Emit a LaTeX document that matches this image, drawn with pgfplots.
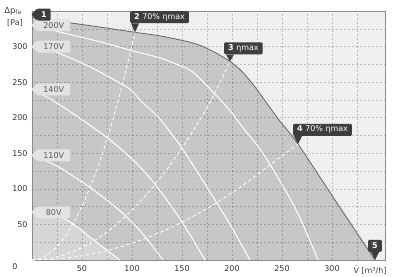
\documentclass[border=0pt]{standalone}
\usepackage{fontspec}
\setmainfont{DejaVu Sans}
\usepackage{pgfplots}
\pgfplotsset{compat=1.18}
\definecolor{bglight}{HTML}{EFEFEF}
\definecolor{envfill}{HTML}{C7C7C7}
\definecolor{low80}{HTML}{D6D6D6}
\definecolor{envline}{HTML}{666666}
\definecolor{axisgray}{HTML}{8C8C8C}
\definecolor{tagdark}{HTML}{3E3E3E}
\definecolor{taglight}{HTML}{E3E3E3}
\tikzset{
 dtag/.style={fill=tagdark, text=white, rounded corners=1.2bp, inner xsep=4bp, inner ysep=1bp,
   font=\fontsize{8}{9}\selectfont, minimum height=12bp},
 vtag/.style={fill=taglight, text=black!65, rounded corners=1bp, inner xsep=2bp, inner ysep=1bp,
   font=\fontsize{8}{9}\selectfont, minimum height=12bp, minimum width=33bp},
}
% down-pointing dark tag: x, y, offset of tip from box left, yshift, text
\newcommand\downtag[5]{%
 \node[dtag, anchor=south west] (T) at ([xshift=-#3, yshift=#4]axis cs:#1,#2) {#5};
 \fill[tagdark] ([xshift=#3-4bp]T.south west) -- (axis cs:#1,#2) -- ([xshift=#3+4bp]T.south west) -- cycle;
}
% left-pointing tag: x, y, style, text
\newcommand\lefttag[4]{%
 \node[#3, anchor=west] (T) at ([xshift=5bp]axis cs:#1,#2) {#4};
 \fill[#3color] ([yshift=-0.3bp]T.north west) -- ([xshift=-0.5bp]axis cs:#1,#2) -- ([yshift=0.3bp]T.south west) -- cycle;
}
\colorlet{dtagcolor}{tagdark}
\colorlet{vtagcolor}{taglight}
\begin{document}
\begin{tikzpicture}
\begin{axis}[
 set layers,
 scale only axis, width=353bp, height=249bp,
 xmin=0, xmax=353, ymin=0, ymax=350,
 clip=false,
 xtick={50,100,...,300}, ytick={50,100,...,300},
 minor xtick={25,75,...,325}, minor ytick={25,75,...,325},
 grid=both,
 grid style={black, opacity=0.2, dash pattern=on 2bp off 2bp, line width=0.5bp},
 major tick length=0pt, minor tick length=0pt,
 axis line style={draw=axisgray, line width=0.8bp},
 axis background/.style={fill=bglight},
 tick label style={font=\fontsize{8}{9}\selectfont, text=black!80},
 /pgf/number format/assume math mode=true,
 xticklabel style={yshift=-2bp},
 yticklabel style={xshift=-1bp},
]
% envelope area
\addplot[on layer=axis background, fill=envfill, draw=none, smooth] coordinates {
 (0,341)(35,334)(70,327)(103,320)(128,315)(161,305)(180,294)(198,279)(210,265)
 (222,245)(235,220)(248,195)(266,163)(305,80)(343,0)} \closedcycle;
% region below lowest voltage
\addplot[on layer=axis background, fill=low80, draw=none, smooth] coordinates {
 (0,67)(15,65)(31,59)(45,47)(58,32)(72,17)(88,0)} \closedcycle;
% envelope line
\addplot[draw=envline, line width=0.8bp, smooth] coordinates {
 (0,341)(35,334)(70,327)(103,320)(128,315)(161,305)(180,294)(198,279)(210,265)
 (222,245)(235,220)(248,195)(266,163)(305,80)(343,0)};
% voltage curves
\addplot[white, line width=1bp, smooth] coordinates {
 (0,67)(15,65)(31,59)(45,47)(58,32)(72,17)(88,0)};
\addplot[white, line width=1bp, smooth] coordinates {
 (0,147)(16,138)(30,128)(41,118)(58,102)(75,84)(92,64)(110,38)(131,0)};
\addplot[white, line width=1bp, smooth] coordinates {
 (0,240)(21,224)(45,202)(75,172)(100,142)(121,110)(148,58)(173,0)};
\addplot[white, line width=1bp, smooth] coordinates {
 (0,300)(18,295)(40,283)(60,270)(80,255)(98,240)(110,222)(128,198)(150,157)(176,100)(198,50)(218,0)};
\addplot[white, line width=1bp, smooth] coordinates {
 (0,330)(35,318)(70,306)(98,295)(128,284)(145,275)(161,264)(181,236)(198,210)(212,184)(228,156)(245,118)(265,68)(286,0)};
% efficiency lines
\addplot[white, line width=0.8bp, dash pattern=on 3.5bp off 2.5bp, smooth] coordinates {
 (0,0)(10,3)(20,12.1)(30,27.2)(40,48.3)(50,75.5)(60,108.7)(70,148)(80,193.3)(90,244.6)(100,302)(103,320)};
\addplot[white, line width=0.8bp, dash pattern=on 3.5bp off 2.5bp, smooth] coordinates {
 (0,0)(20,2.8)(40,11.2)(60,25.2)(80,44.8)(100,70)(120,100.8)(140,137.2)(160,179.2)(180,226.8)(198,279)};
\addplot[white, line width=0.8bp, dash pattern=on 3.5bp off 2.5bp, smooth] coordinates {
 (0,0)(30,2.1)(60,8.5)(90,19.1)(120,34)(150,53.1)(180,76.5)(210,104.1)(240,135.9)(266,163)};
% voltage tags
\lefttag{0}{330}{vtag}{200V}
\lefttag{0}{300}{vtag}{170V}
\lefttag{0}{240}{vtag}{140V}
\lefttag{0}{147}{vtag}{110V}
\lefttag{0}{67}{vtag}{80V}
% point tags
\lefttag{0}{345}{dtag}{\textbf{1}}
\downtag{103}{320}{5bp}{9bp}{\textbf{2} 70\% ηmax}
\downtag{198}{279}{6bp}{7bp}{\textbf{3} ηmax}
\downtag{266}{163}{5bp}{8bp}{\textbf{4} 70\% ηmax}
\node[dtag, anchor=south] (T5) at ([yshift=8bp]axis cs:343,0) {\textbf{5}};
\fill[tagdark] ([xshift=-4bp]T5.south) -- (axis cs:343,0) -- ([xshift=4bp]T5.south) -- cycle;
% origin label
\node[font=\fontsize{8}{9}\selectfont, text=black!80] at ([xshift=-17bp, yshift=-7bp]axis cs:0,0) {0};
\end{axis}
\node[font=\fontsize{8.5}{9}\selectfont, text=black!75] at (-19bp,249bp) {Δp\textsubscript{fa}};
\node[font=\fontsize{8}{9}\selectfont, text=black!75] at (-17bp,237bp) {[Pa]};
\node[font=\fontsize{8}{9}\selectfont, text=black!75] at (338bp,-10bp) {V̇ [m³/h]};
\pgfresetboundingbox
\path[use as bounding box] (-32bp,-17bp) rectangle (362bp,260bp);
\end{tikzpicture}
\end{document}
